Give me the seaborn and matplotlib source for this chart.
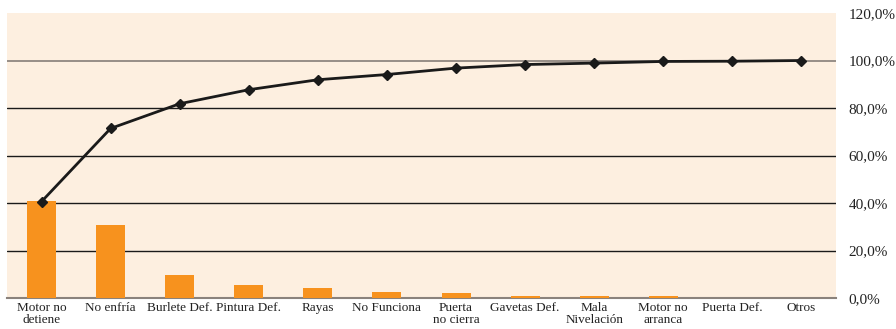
import matplotlib
matplotlib.use("Agg")
import matplotlib.pyplot as plt
import seaborn as sns
import pandas as pd
import numpy as np
from matplotlib.ticker import FixedLocator, FuncFormatter

categories = ["Motor no\ndetiene", "No enfría", "Burlete Def.", "Pintura Def.", "Rayas",
              "No Funciona", "Puerta\nno cierra", "Gavetas Def.", "Mala\nNivelación",
              "Motor no\narranca", "Puerta Def.", "Otros"]
percent = [40.8, 30.8, 9.8, 5.3, 4.2, 2.4, 2.2, 1.0, 1.0, 1.0, 0.1, 0.1]
cumulative = [40.6, 71.4, 81.8, 87.7, 91.9, 94.1, 96.8, 98.3, 98.9, 99.6, 99.7, 100.0]
ytick_values = [0, 20, 40, 60, 80, 100, 120]

df = pd.DataFrame({"cat": categories, "pct": percent, "cum": cumulative})

sns.set_theme(style="white")
plt.rcParams["font.family"] = ["Liberation Serif", "DejaVu Serif"]

fig = plt.figure(figsize=(8.96, 3.29), dpi=100)
ax = fig.add_axes([7/896, 1 - 298/329, (836 - 7)/896, (298 - 13)/329])
ax.set_facecolor("#FDEFE0")

sns.barplot(data=df, x="cat", y="pct", color="#F7921E", saturation=1, width=0.42,
            linewidth=0, edgecolor="none", ax=ax, zorder=3)
ax.plot(np.arange(len(categories)), df["cum"], color="#1a1a1a", lw=2, marker="D", ms=5.5, zorder=5)

ax.set_ylim(0, 120)
ax.set_xlim(-0.5, len(categories) - 0.5)

for v in ytick_values[1:-1]:
    ax.axhline(v, color="#8f8680" if v == 100 else "#1a1a1a", lw=1.3 if v == 100 else 1.0, zorder=1)

ax.yaxis.tick_right()
ax.yaxis.set_major_locator(FixedLocator(ytick_values))
ax.yaxis.set_major_formatter(FuncFormatter(lambda v, p: f"{v:.1f}".replace(".", ",") + "%"))
ax.tick_params(axis="y", length=0, pad=9, labelsize=11, colors="#222222")

ax.set_xticks(np.arange(len(categories)))
ax.set_xticklabels(categories, fontsize=9.5, color="#222222", linespacing=1.0)
ax.tick_params(axis="x", length=0, pad=3)
ax.set_xticks(np.arange(-0.5, len(categories)), minor=True)
ax.tick_params(axis="x", which="minor", length=6, direction="inout", color="#333333", width=1)

for s in ["left", "right", "top"]:
    ax.spines[s].set_visible(False)
ax.spines["bottom"].set_color("#8a827c")
ax.spines["bottom"].set_linewidth(1.5)
ax.set_xlabel("")
ax.set_ylabel("")

fig.savefig("out.png", dpi=100, facecolor="white")
